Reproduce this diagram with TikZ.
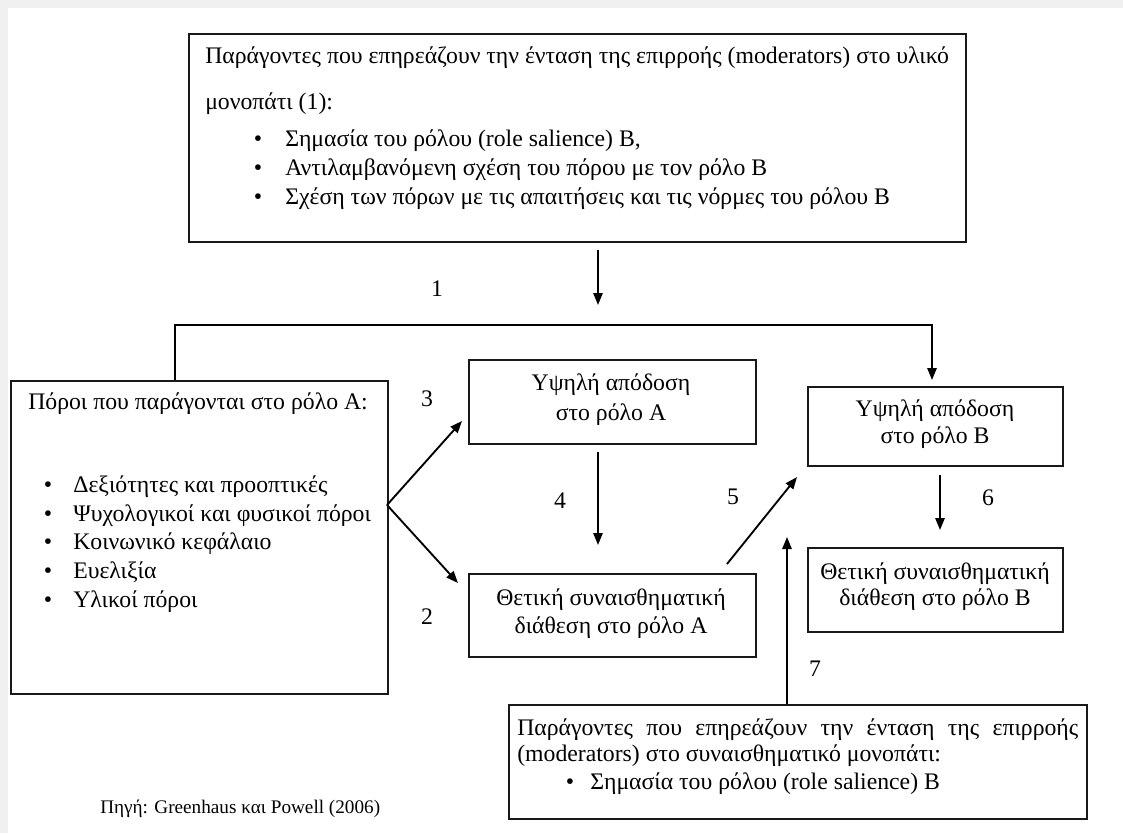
\documentclass[tikz,border=0pt]{standalone}
\usepackage{fontspec}
\setmainfont{Liberation Serif}
\usetikzlibrary{arrows.meta}
\begin{document}
\begin{tikzpicture}[x=0.75pt,y=-0.75pt,
  box/.style={draw=black!90, line width=1.4pt, anchor=north west, inner sep=0pt},
  txt/.style={anchor=base west, inner sep=0pt, font=\fontsize{17.8}{21}\selectfont},
  ctxt/.style={anchor=base, inner sep=0pt, font=\fontsize{17.8}{21}\selectfont},
  bul/.style={anchor=base, inner sep=0pt, font=\fontsize{17.8}{21}\selectfont},
  num/.style={anchor=base, inner sep=0pt, font=\fontsize{17.8}{21}\selectfont},
  src/.style={anchor=base west, inner sep=0pt, font=\fontsize{14.4}{17}\selectfont},
  line/.style={line width=1.4pt},
  conn/.style={line width=1.4pt, -{Triangle[length=9pt,width=7pt]}}]
\fill[black!6] (0,0) rectangle (1123,833);
\fill[white] (8,8) rectangle (1123,833);
\useasboundingbox (0,0) rectangle (1123,833);

% boxes
\node[box, minimum width=777*0.75pt, minimum height=208*0.75pt] (top) at (188,33) {};
\node[box, minimum width=377*0.75pt, minimum height=313*0.75pt] (res) at (10,380) {};
\node[box, minimum width=287*0.75pt, minimum height=84*0.75pt] (perfA) at (468,359) {};
\node[box, minimum width=255*0.75pt, minimum height=79*0.75pt] (perfB) at (807,386) {};
\node[box, minimum width=287*0.75pt, minimum height=83*0.75pt] (affA) at (468,573) {};
\node[box, minimum width=255*0.75pt, minimum height=84*0.75pt] (affB) at (807,547) {};
\node[box, minimum width=578*0.75pt, minimum height=114*0.75pt] (mod) at (508,704) {};

% top box text
\node[txt] (t1) at (205,63) {Παράγοντες που επηρεάζουν την ένταση της επιρροής (moderators) στο υλικό};
\node[txt] (t2) at (205,109) {μονοπάτι (1):};
\node[bul] (tb1) at (258,146) {•};
\node[txt] (tl1) at (285,146) {Σημασία του ρόλου (role salience) Β,};
\node[bul] (tb2) at (258,175) {•};
\node[txt] (tl2) at (285,175) {Αντιλαμβανόμενη σχέση του πόρου με τον ρόλο Β};
\node[bul] (tb3) at (258,204) {•};
\node[txt] (tl3) at (285,204) {Σχέση των πόρων με τις απαιτήσεις και τις νόρμες του ρόλου Β};

% left box text
\node[txt] (r0) at (28,409) {Πόροι που παράγονται στο ρόλο Α:};
\node[bul] (rb1) at (48,492) {•};
\node[txt] (r1) at (73,492) {Δεξιότητες και προοπτικές};
\node[bul] (rb2) at (48,521) {•};
\node[txt] (r2) at (73,521) {Ψυχολογικοί και φυσικοί πόροι};
\node[bul] (rb3) at (48,549) {•};
\node[txt] (r3) at (73,549) {Κοινωνικό κεφάλαιο};
\node[bul] (rb4) at (48,578) {•};
\node[txt] (r4) at (73,578) {Ευελιξία};
\node[bul] (rb5) at (48,607) {•};
\node[txt] (r5) at (73,607) {Υλικοί πόροι};

% small boxes text
\node[ctxt] (pa1) at (611,390) {Υψηλή απόδοση};
\node[ctxt] (pa2) at (611,420) {στο ρόλο Α};
\node[ctxt] (pb1) at (935,416) {Υψηλή απόδοση};
\node[ctxt] (pb2) at (935,443) {στο ρόλο Β};
\node[ctxt] (aa1) at (611,605) {Θετική συναισθηματική};
\node[ctxt] (aa2) at (611,633) {διάθεση στο ρόλο Α};
\node[ctxt] (ab1) at (935,579) {Θετική συναισθηματική};
\node[ctxt] (ab2) at (935,605) {διάθεση στο ρόλο Β};

% bottom box text
\node[txt] (m1) at (517,735) {\makebox[561\dimexpr0.75pt\relax][s]{Παράγοντες που επηρεάζουν την ένταση της επιρροής}};
\node[txt] (m2) at (517,761) {(moderators) στο συναισθηματικό μονοπάτι:};
\node[bul] (mb) at (570,789) {•};
\node[txt] (m3) at (590,789) {Σημασία του ρόλου (role salience) Β};

% source
\node[src] (source) at (100,813) {Πηγή: Greenhaus και Powell (2006)};

% numbers
\node[num] (n1) at (437,296) {1};
\node[num] (n3) at (427,406) {3};
\node[num] (n2) at (427,624) {2};
\node[num] (n4) at (560,508) {4};
\node[num] (n5) at (733,504) {5};
\node[num] (n6) at (988,505) {6};
\node[num] (n7) at (815,676) {7};

% connectors
\coordinate (a1s) at (598,250);
\coordinate (a1e) at (598,305);
\draw[conn] (a1s) -- (a1e);

\coordinate (c1) at (175,325);
\coordinate (c2) at (932,325);
\draw[conn] (res.north -| c1) -- (c1) -- (c2) -- ([yshift=6*0.75pt]perfB.north -| c2);

\coordinate (fork) at (387,505);
\coordinate (f3) at (462,421);
\coordinate (f2) at (458,583);
\draw[conn] (fork) -- (f3);
\draw[conn] (fork) -- (f2);

\coordinate (a4s) at (598,452);
\coordinate (a4e) at (598,545);
\draw[conn] (a4s) -- (a4e);

\coordinate (a5s) at (727,564);
\coordinate (a5e) at (797,477);
\draw[conn] (a5s) -- (a5e);

\coordinate (a6s) at (940,475);
\coordinate (a6e) at (940,530);
\draw[conn] (a6s) -- (a6e);

\coordinate (a7e) at (787,537);
\draw[conn] (mod.north -| a7e) -- (a7e);
\end{tikzpicture}
\end{document}
